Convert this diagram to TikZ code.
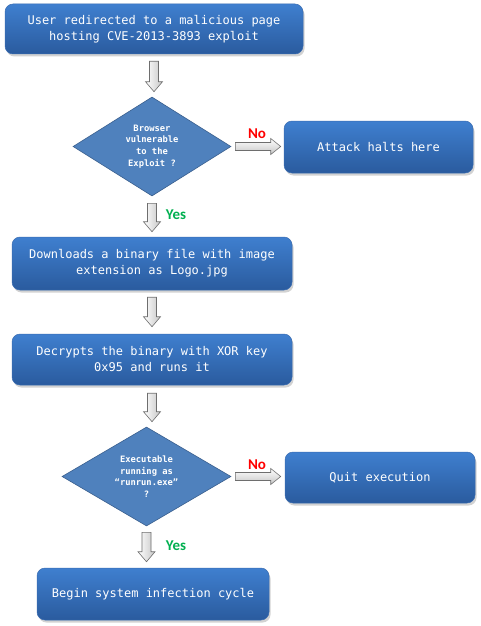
\documentclass[tikz,border=0pt]{standalone}
\usepackage{fontspec}
\setmonofont{DejaVu Sans Mono}
\newfontfamily\lblfont{Carlito}
\usetikzlibrary{shapes.geometric,shadows,calc}
\definecolor{boxtop}{HTML}{3F7FCF}
\definecolor{boxbot}{HTML}{2A5B9E}
\definecolor{boxedge}{HTML}{3A6CB0}
\definecolor{diafill}{HTML}{4F81BD}
\definecolor{diaedge}{HTML}{3A5F8E}
\definecolor{nored}{HTML}{FF0000}
\definecolor{yesgreen}{HTML}{00B050}
\definecolor{arredge}{HTML}{6E6E6E}
\tikzset{
  procbox/.style={rectangle, rounded corners=8pt, top color=boxtop, bottom color=boxbot,
    draw=boxedge, line width=0.5pt, text=white, align=center, inner sep=0pt,
    font=\ttfamily\fontsize{12}{16}\selectfont,
    drop shadow={opacity=0.35, shadow xshift=1.5pt, shadow yshift=-2.5pt}},
  decision/.style={diamond, aspect=1.6, fill=diafill, draw=diaedge, line width=0.6pt,
    text=white, align=center, inner sep=0pt,
    font=\ttfamily\bfseries\fontsize{8.8}{11.6}\selectfont},
  blkv/.style={left color=white, right color=gray!45, draw=arredge, line width=0.6pt, line join=miter},
  blkh/.style={top color=white, bottom color=gray!45, draw=arredge, line width=0.6pt, line join=miter},
  nolbl/.style={text=nored, font=\lblfont\bfseries\fontsize{15}{18}\selectfont, inner sep=0pt},
  yeslbl/.style={text=yesgreen, font=\lblfont\bfseries\fontsize{15}{18}\selectfont, inner sep=0pt}
}
\newcommand\blkdown[2]{%
  \path[blkv] let \p1=(#1), \p2=(#2) in
    (\x1-4.5pt,\y1) -- (\x1+4.5pt,\y1) -- (\x1+4.5pt,\y2+10pt) -- (\x1+8.5pt,\y2+10pt)
    -- (\x1,\y2) -- (\x1-8.5pt,\y2+10pt) -- (\x1-4.5pt,\y2+10pt) -- cycle;}
\newcommand\blkright[2]{%
  \path[blkh] let \p1=(#1), \p2=(#2) in
    (\x1,\y1+4pt) -- (\x2-10pt,\y1+4pt) -- (\x2-10pt,\y1+8pt) -- (\x2,\y1)
    -- (\x2-10pt,\y1-8pt) -- (\x2-10pt,\y1-4pt) -- (\x1,\y1-4pt) -- cycle;}
\begin{document}
\begin{tikzpicture}[x=1pt,y=-1pt]
\useasboundingbox[fill=white] (0,0) rectangle (480,626);

\node[procbox, minimum width=298pt, minimum height=50pt] (b1) at (154,29)
  {User redirected to a malicious page\\hosting CVE-2013-3893 exploit};
\node[decision, minimum width=158pt, minimum height=99pt] (d1) at (152,146.5)
  {Browser\\vulnerable\\to the\\Exploit ?};
\node[procbox, minimum width=189pt, minimum height=52pt] (attack) at (378.5,147)
  {Attack halts here};
\node[procbox, minimum width=280pt, minimum height=53pt] (b2) at (152,263.5)
  {Downloads a binary file with image\\extension as Logo.jpg};
\node[procbox, minimum width=280pt, minimum height=51pt] (b3) at (152,359.5)
  {Decrypts the binary with XOR key\\0x95 and runs it};
\node[decision, minimum width=169pt, minimum height=99pt] (d2) at (146.5,476.5)
  {Executable\\running as\\“runrun.exe”\\?};
\node[procbox, minimum width=190pt, minimum height=51pt] (quit) at (380,477.5)
  {Quit execution};
\node[procbox, minimum width=232pt, minimum height=52pt] (b4) at (153,594)
  {Begin system infection cycle};

% connectors
\coordinate (a1s) at ([yshift=-7pt]b1.south);
\coordinate (a1e) at ([yshift=5pt]d1.north);
\blkdown{a1s}{a1e}
\coordinate (n1s) at ([xshift=4pt]d1.east);
\coordinate (n1e) at ([xshift=-3pt]attack.west);
\blkright{n1s}{n1e}
\coordinate (y1s) at ([yshift=-7pt]d1.south);
\coordinate (y1e) at ([yshift=5pt]b2.north);
\blkdown{y1s}{y1e}
\coordinate (a4s) at ([yshift=-7pt]b2.south);
\coordinate (a4e) at ([yshift=7pt]b3.north);
\blkdown{a4s}{a4e}
\coordinate (a5s) at ([yshift=-8pt]b3.south);
\coordinate (a5e) at ([yshift=5pt]d2.north);
\blkdown{a5s}{a5e}
\coordinate (n2s) at ([xshift=4pt]d2.east);
\coordinate (n2e) at ([xshift=-4pt]quit.west);
\blkright{n2s}{n2e}
\coordinate (y2s) at ([yshift=-6pt]d2.south);
\coordinate (y2e) at ([yshift=6pt]b4.north);
\blkdown{y2s}{y2e}

% labels
\node[nolbl] (no1) at (257,134) {No};
\node[yeslbl] (yes1) at (176,215) {Yes};
\node[nolbl] (no2) at (257,465) {No};
\node[yeslbl] (yes2) at (176,546) {Yes};
\end{tikzpicture}
\end{document}
